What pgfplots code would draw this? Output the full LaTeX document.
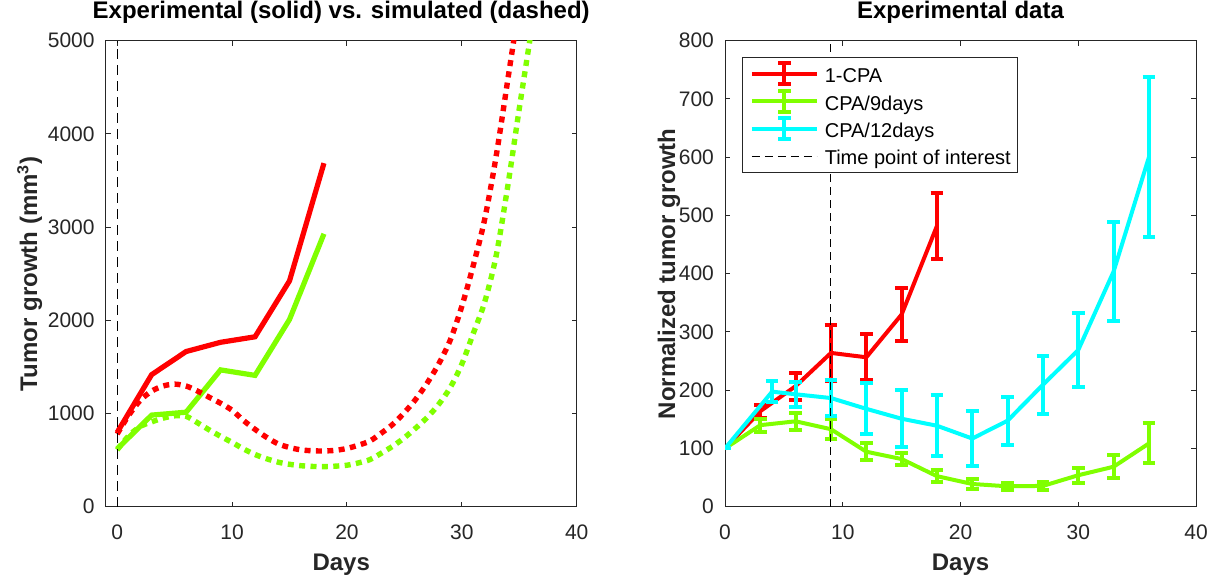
\documentclass[border=0pt]{standalone}
\usepackage{fontspec}
\setmainfont{Liberation Sans}
\usepackage{pgfplots}
\pgfplotsset{compat=1.18}
\definecolor{mgray}{RGB}{38,38,38}
\definecolor{mgreen}{RGB}{128,255,0}
\definecolor{mcyan}{RGB}{0,255,255}
\definecolor{mred}{RGB}{255,0,0}

\pgfplotsset{
  mstyle/.style={
    scale only axis, width=235.5pt, height=233pt,
    axis line style={mgray, line width=0.5pt},
    tick style={mgray, line width=0.5pt},
    tick align=inside, major tick length=2.5pt,
    every tick label/.append style={font=\fontsize{10.5}{12}\selectfont, text=mgray},
    /pgf/number format/assume math mode=true,
    /pgf/number format/1000 sep={},
    scaled ticks=false,
    xticklabel style={anchor=base, yshift=-16.15pt},
    yticklabel style={anchor=east, inner sep=0pt, xshift=-5.35pt},
    title style={font=\bfseries\fontsize{12}{14}\selectfont, text=black, at={([yshift=5.3pt]axis description cs:0.5,1)}, anchor=base},
    xlabel style={font=\bfseries\fontsize{12}{14}\selectfont, text=mgray, at={([yshift=-31.9pt]axis description cs:0.5,0)}, anchor=base},
    ylabel style={font=\bfseries\fontsize{12}{14}\selectfont, text=mgray, anchor=base},
  },
  ebar/.style={line width=2pt, mark=none, #1,
    error bars/.cd, y dir=both, y explicit,
    error bar style={line width=2pt, solid, #1},
    error mark options={rotate=90, line width=2pt, mark size=3.15pt, solid, #1},
    /pgfplots/.cd},
  eleg/.style={legend image code/.code={
    \draw[#1, line width=2pt] (0pt,0pt) -- (32.5pt,0pt);
    \draw[overlay, #1, line width=2pt] (16.25pt,-5.25pt) -- (16.25pt,5.25pt);
    \draw[overlay, #1, line width=2pt] (13.1pt,-5.25pt) -- (19.4pt,-5.25pt);
    \draw[overlay, #1, line width=2pt] (13.1pt,5.25pt) -- (19.4pt,5.25pt);
  }},
}

\begin{document}
\begin{tikzpicture}
\path[use as bounding box] (-52.85pt,-35.15pt) rectangle (556.15pt,253.35pt);

% ---------------- left axis ----------------
\begin{axis}[mstyle, at={(0pt,0pt)}, anchor=south west,
  xmin=-1, xmax=40, ymin=0, ymax=5000,
  xtick={0,10,20,30,40}, ytick={0,1000,2000,3000,4000,5000},
  title={Experimental (solid) vs. simulated (dashed)},
  xlabel={Days},
  ylabel={Tumor growth (mm\textsuperscript{3})},
  ylabel style={at={([xshift=-34.3pt]axis description cs:0,0.5)}},
]
\addplot[mred, line width=2.6pt, mark=none] coordinates {
 (0,797) (3,1417) (6,1665) (9,1764) (12,1823) (15,2423) (18,3686)};
\addplot[mgreen, line width=2.6pt, mark=none] coordinates {
 (0,620) (3,983) (6,1014) (9,1468) (12,1409) (15,2009) (18,2928)};
\addplot[mred, line width=2.7pt, dash pattern=on 3pt off 2.7pt, smooth, mark=none] coordinates {
 (0,780) (1,980) (2,1140) (3,1240) (4,1295) (5,1315) (6,1295) (7,1240) (8,1175)
 (9,1110) (10,1035) (11,925) (12,830) (13,745) (14,675) (15,635) (16,610) (17,600)
 (18,598) (19,605) (20,625) (21,660) (22,705) (23,790) (24,885) (25,1010) (26,1155)
 (27,1330) (28,1535) (29,1790) (30,2150) (31,2590) (32,3090) (33,3770) (34,4580)
 (35,5400) (36,6300)};
\addplot[mgreen, line width=2.7pt, dash pattern=on 3pt off 2.7pt, smooth, mark=none] coordinates {
 (0,610) (1,760) (2,860) (3,910) (4,950) (5,975) (6,970) (7,900) (8,825) (9,755)
 (10,690) (11,620) (12,560) (13,515) (14,478) (15,455) (16,440) (17,432) (18,430)
 (19,435) (20,445) (21,470) (22,505) (23,575) (24,650) (25,740) (26,845) (27,960)
 (28,1100) (29,1280) (30,1530) (31,1860) (32,2200) (33,2700) (34,3440) (35,4270)
 (36,5070) (37,5900)};
\addplot[black, line width=0.5pt, dash pattern=on 5pt off 3pt, mark=none] coordinates {(0,0) (0,5000)};
\end{axis}

% ---------------- right axis ----------------
\begin{axis}[mstyle, at={(309.65pt,0pt)}, anchor=south west,
  xmin=0, xmax=40, ymin=0, ymax=800,
  xtick={0,10,20,30,40}, ytick={0,100,...,800},
  title={Experimental data},
  xlabel={Days},
  ylabel={Normalized tumor growth},
  ylabel style={at={([xshift=-25pt]axis description cs:0,0.5)}},
  legend style={at={([xshift=8.65pt,yshift=-8.3pt]axis description cs:0,1)},
    anchor=north west, draw=mgray, line width=0.5pt, fill=white,
    font=\fontsize{10}{12}\selectfont, text=black,
    inner xsep=3.5pt, inner ysep=1.45pt, row sep=0.5pt,
    nodes={inner sep=0pt, text height=11pt, text depth=2.2pt},
    column sep=3pt},
  legend cell align=left,
]
\addplot[eleg=mred, ebar=mred] coordinates {
 (0,100) +- (0,0) (3,164) +- (0,11) (6,207) +- (0,23) (9,264) +- (0,48)
 (12,256.5) +- (0,39.5) (15,330) +- (0,46) (18,482) +- (0,56.5)};
\addlegendentry{1-CPA}
\addplot[eleg=mgreen, ebar=mgreen] coordinates {
 (0,100) +- (0,0) (3,140) +- (0,11.4) (6,146.6) +- (0,15) (9,133) +- (0,17)
 (12,94.4) +- (0,14.2) (15,81.8) +- (0,11) (18,52.4) +- (0,10) (21,39) +- (0,9.4)
 (24,35) +- (0,6.3) (27,35.7) +- (0,7) (30,54) +- (0,13) (33,68.6) +- (0,20)
 (36,108.6) +- (0,34.3)};
\addlegendentry{CPA/9days}
\addplot[eleg=mcyan, ebar=mcyan] coordinates {
 (0,100) +- (0,0) (4,197.5) +- (0,18.6) (6,193) +- (0,21.7) (9,186.5) +- (0,30.6)
 (12,168) +- (0,44) (15,151) +- (0,49) (18,139) +- (0,52.5) (21,117) +- (0,47.4)
 (24,147.7) +- (0,41) (27,209.4) +- (0,49.4) (30,269) +- (0,64) (33,403.7) +- (0,85)
 (36,600) +- (0,137)};
\addlegendentry{CPA/12days}
\addplot[black, line width=0.5pt, dash pattern=on 4pt off 2.5pt, mark=none,
  legend image code/.code={\draw[black, line width=0.5pt, dash pattern=on 4pt off 2.5pt] (0pt,0pt) -- (32.5pt,0pt);}]
  coordinates {(9,0) (9,800)};
\addlegendentry{Time point of interest}
\end{axis}
\end{tikzpicture}
\end{document}
